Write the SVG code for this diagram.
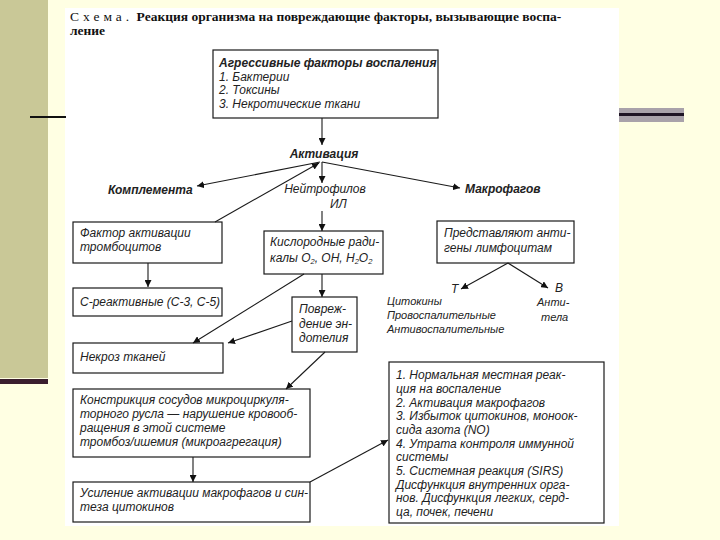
<svg xmlns="http://www.w3.org/2000/svg" width="720" height="540" viewBox="0 0 720 540">
<defs>
<marker id="ah" viewBox="0 0 10 10" refX="10" refY="5" markerWidth="7" markerHeight="7" markerUnits="userSpaceOnUse" orient="auto">
<path d="M0,0 L10,5 L0,10 Z" fill="#111"/>
</marker>
<style>
.box{fill:#fff;stroke:#1a1a1a;stroke-width:1.2}
.t{font-family:"Liberation Sans",Arial,sans-serif;font-style:italic;font-size:12px;fill:#222}
.s{font-size:11px}
.b{font-weight:bold}
.ln{stroke:#1a1a1a;stroke-width:1.1;fill:none;marker-end:url(#ah)}
.ti{font-family:"Liberation Serif","Times New Roman",serif;font-size:13.5px;fill:#111}
</style>
</defs>
<rect x="0" y="0" width="720" height="540" fill="#FFFFE3"/>
<rect x="0" y="0" width="48" height="378" fill="#C9C897"/>
<rect x="0" y="379" width="48" height="5" fill="#3A1E2E"/>
<rect x="618" y="108" width="66" height="14" fill="#A9A2AA"/>
<rect x="618" y="113" width="66" height="3" fill="#1E1424"/>
<rect x="65" y="8" width="554" height="518" fill="#FFFFFF"/>
<line x1="30" y1="117" x2="66" y2="117" stroke="#111" stroke-width="2"/>

<g id="title">
<text class="ti" x="70" y="21"><tspan letter-spacing="4">Схема.</tspan> <tspan font-weight="bold">Реакция организма на повреждающие факторы, вызывающие воспа-</tspan></text>
<text class="ti" x="70" y="35" font-weight="bold">ление</text>
</g>

<g id="n-aggr">
<rect class="box" x="213" y="50" width="225" height="68"/>
<text class="t b" x="219" y="67" font-size="12.4px">Агрессивные факторы воспаления</text>
<text class="t" x="219" y="81">1. Бактерии</text>
<text class="t" x="219" y="94">2. Токсины</text>
<text class="t" x="219" y="108">3. Некротические ткани</text>
</g>

<g id="n-activ"><text class="t b" x="324" y="158" text-anchor="middle">Активация</text></g>
<g id="n-compl"><text class="t b" x="108" y="194">Комплемента</text></g>
<g id="n-neutro"><text class="t" x="325" y="193" text-anchor="middle">Нейтрофилов</text><text class="t" x="330" y="208">ИЛ</text></g>
<g id="n-macro"><text class="t b" x="465" y="193">Макрофагов</text></g>

<g id="n-paf">
<rect class="box" x="73" y="222" width="149" height="41"/>
<text class="t" x="80" y="237">Фактор активации</text>
<text class="t" x="80" y="251">тромбоцитов</text>
</g>
<g id="n-crp">
<rect class="box" x="73" y="288" width="149" height="28"/>
<text class="t" x="80" y="306">С-реактивные (С-3, С-5)</text>
</g>
<g id="n-oxy">
<rect class="box" x="264" y="231" width="119" height="43"/>
<text class="t" x="270" y="246">Кислородные ради-</text>
<text class="t" x="270" y="262">калы О<tspan font-size="7.5px" dy="2">2</tspan><tspan dy="-2">, ОН, Н</tspan><tspan font-size="7.5px" dy="2">2</tspan><tspan dy="-2">О</tspan><tspan font-size="7.5px" dy="2">2</tspan></text>
</g>
<g id="n-endo">
<rect class="box" x="292" y="297" width="65" height="55"/>
<text class="t" x="299" y="313">Повреж-</text>
<text class="t" x="299" y="328">дение эн-</text>
<text class="t" x="299" y="342">дотелия</text>
</g>
<g id="n-necro">
<rect class="box" x="73" y="343" width="150" height="30"/>
<text class="t" x="80" y="361">Некроз тканей</text>
</g>
<g id="n-constr">
<rect class="box" x="73" y="389" width="237" height="68"/>
<text class="t" x="80" y="404">Констрикция сосудов микроциркуля-</text>
<text class="t" x="80" y="418">торного русла — нарушение кровооб-</text>
<text class="t" x="80" y="432">ращения в этой системе</text>
<text class="t" x="80" y="446">тромбоз/ишемия (микроагрегация)</text>
</g>
<g id="n-usil">
<rect class="box" x="73" y="482" width="237" height="40"/>
<text class="t" x="80" y="497">Усиление активации макрофагов и син-</text>
<text class="t" x="80" y="511">теза цитокинов</text>
</g>
<g id="n-antigen">
<rect class="box" x="437" y="221" width="137" height="42"/>
<text class="t" x="444" y="237">Представляют анти-</text>
<text class="t" x="444" y="252">гены лимфоцитам</text>
</g>
<g id="n-t"><text class="t" x="451" y="293" font-size="10px">Т</text></g>
<g id="n-b"><text class="t" x="555" y="292" font-size="10px">В</text></g>
<g id="n-cyto">
<text class="t s" x="387" y="305">Цитокины</text>
<text class="t s" x="387" y="319">Провоспалительные</text>
<text class="t s" x="387" y="333">Антивоспалительные</text>
</g>
<g id="n-antitela">
<text class="t s" x="537" y="306">Анти-</text>
<text class="t s" x="541" y="321">тела</text>
</g>
<g id="n-big">
<rect class="box" x="389" y="362" width="215" height="161"/>
<text class="t" x="396" y="379">1. Нормальная местная реак-</text>
<text class="t" x="396" y="393">ция на воспаление</text>
<text class="t" x="396" y="407">2. Активация макрофагов</text>
<text class="t" x="396" y="420">3. Избыток цитокинов, моноок-</text>
<text class="t" x="396" y="434">сида азота (NO)</text>
<text class="t" x="396" y="448">4. Утрата контроля иммунной</text>
<text class="t" x="396" y="461">системы</text>
<text class="t" x="396" y="475">5. Системная реакция (SIRS)</text>
<text class="t" x="396" y="489">Дисфункция внутренних орга-</text>
<text class="t" x="396" y="502">нов. Дисфункция легких, серд-</text>
<text class="t" x="396" y="516">ца, почек, печени</text>
</g>

<g id="connectors">
<line class="ln" x1="322" y1="118" x2="322" y2="145"/>
<line class="ln" x1="320" y1="162" x2="197" y2="186"/>
<line class="ln" x1="322" y1="162" x2="460" y2="188"/>
<line class="ln" x1="322" y1="162" x2="322" y2="183"/>
<line class="ln" x1="215" y1="222" x2="319" y2="163"/>
<line class="ln" x1="322" y1="211" x2="322" y2="231"/>
<line class="ln" x1="148" y1="263" x2="148" y2="287"/>
<line class="ln" x1="322" y1="274" x2="322" y2="297"/>
<line class="ln" x1="304" y1="274" x2="193" y2="343"/>
<line class="ln" x1="292" y1="321" x2="228" y2="343"/>
<line class="ln" x1="325" y1="352" x2="286" y2="389"/>
<line class="ln" x1="193" y1="457" x2="193" y2="482"/>
<line class="ln" x1="310" y1="482" x2="388" y2="440"/>
<line class="ln" x1="508" y1="263" x2="461" y2="289"/>
<line class="ln" x1="508" y1="263" x2="548" y2="288"/>
</g>
</svg>
